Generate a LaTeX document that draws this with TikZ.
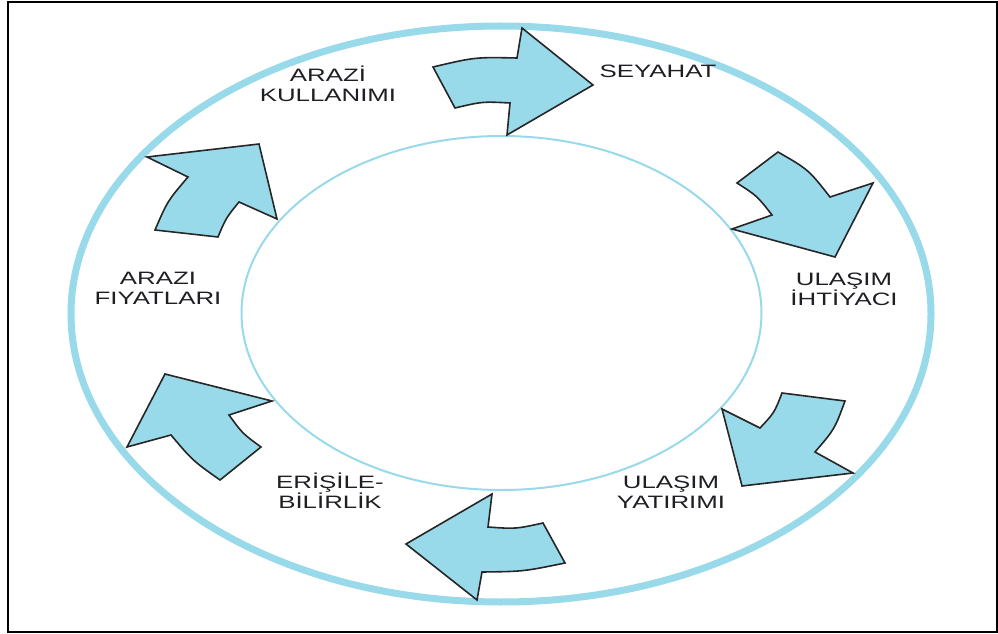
\documentclass[tikz,border=0pt]{standalone}
\usepackage{fontspec}
\newfontfamily\ringfont[FakeStretch=1.44]{Liberation Sans}
\definecolor{ringblue}{RGB}{152,217,234}
\definecolor{txtgray}{RGB}{30,30,35}

\begin{document}
\begin{tikzpicture}[x=1bp,y=-1bp,
    arr/.style={draw=black!85,fill=ringblue,line width=1.6bp,line join=miter},
    lbl/.style={align=center,text=txtgray,inner sep=0pt,font=\ringfont\fontsize{18}{20}\selectfont}]
        \useasboundingbox (0,0) rectangle (998,634);
        \draw[line width=2bp](8.3,1.7) rectangle (997,632);
        % rings
        \draw[ringblue,line width=7bp](501,314) ellipse [x radius=430, y radius=288];
        \draw[ringblue,line width=2bp](501.5,313) ellipse [x radius=260, y radius=177];
        % arrows
        \draw[arr](433,67) .. controls (475,57.1) .. (517,58) -- (522,28) -- (593,85) -- (507,135) -- (510,103) .. controls (482.5,101.5) .. (455,108) -- cycle;
        \draw[arr](778,152) .. controls (808.4,169.5) .. (830,197) -- (873,183) -- (835,257) -- (732,229) -- (772,215) .. controls (757.2,196) .. (737,183) -- cycle;
        \draw[arr](845,401) .. controls (834.6,429.2) .. (815,452) -- (853,473) -- (742,486) -- (722,409) -- (760,428) .. controls (774.4,412.6) .. (782,393) -- cycle;
        \draw[arr](543,523) .. controls (515.5,529) .. (488,527) -- (492,494) -- (406,544) -- (477,600) -- (482,572) .. controls (523.5,571.5) .. (565,563) -- cycle;
        \draw[arr](261,447) .. controls (242.5,433.5) .. (229,415) -- (272,401) -- (165,374) -- (127,447) -- (171,435) .. controls (192.5,460.5) .. (220,480) -- cycle;
        \draw[arr](218,237) .. controls (226,218) .. (239,202) -- (277,219) -- (259,144) -- (147,157) -- (188,177) .. controls (167.5,201) .. (155,230) -- cycle;
        % labels
        \node[lbl](kullanim)at(328,84){ARAZİ\\KULLANIMI};
        \node[lbl](seyahat)at(658,71){SEYAHAT};
        \node[lbl](ihtiyac)at(844,289){ULAŞIM\\İHTİYACI};
        \node[lbl](yatirim)at(671,492){ULAŞIM\\YATIRIMI};
        \node[lbl](erisim)at(330,491){ERİŞİLE-\\BİLİRLİK};
        \node[lbl](fiyat)at(158,288){ARAZI\\FIYATLARI};
    \end{tikzpicture}
\end{document}
